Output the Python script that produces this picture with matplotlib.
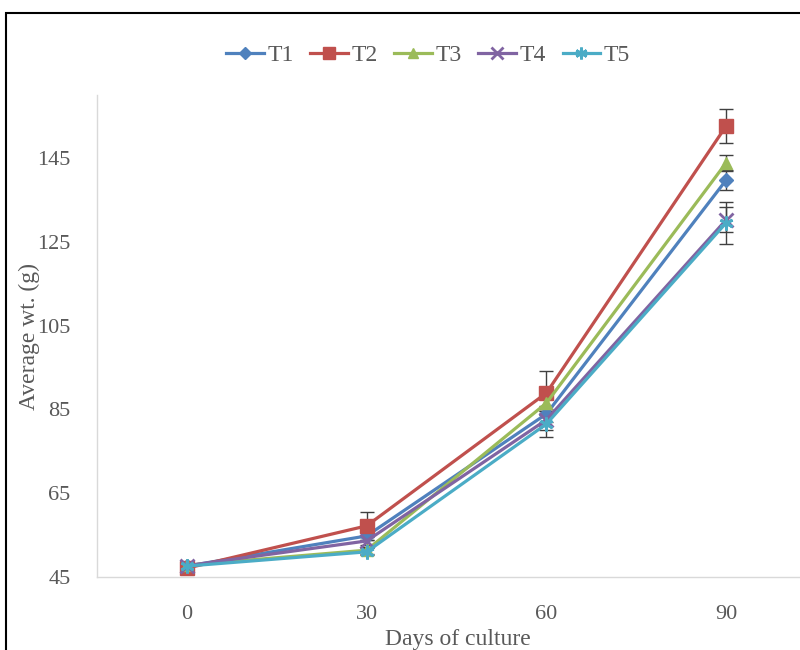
import matplotlib
matplotlib.use("Agg")
import matplotlib.pyplot as plt
from matplotlib.patches import Rectangle

days = [0, 30, 60, 90]
series = ["T1", "T2", "T3", "T4", "T5"]
T1 = [47.6, 54.8, 83.9, 139.7]
T2 = [47.1, 57.2, 88.9, 152.6]
T3 = [47.8, 51.4, 86.5, 143.8]
T4 = [47.7, 53.6, 82.5, 130.2]
T5 = [47.6, 51.0, 81.5, 129.5]
E1 = [0.3, 1.0, 2.0, 2.4]
E2 = [0.3, 3.4, 5.3, 4.0]
E3 = [0.3, 0.8, 2.0, 2.0]
E4 = [0.3, 1.0, 2.5, 3.0]
E5 = [0.3, 0.8, 3.0, 5.0]
yticks = [45, 65, 85, 105, 125, 145]

values = [T1, T2, T3, T4, T5]
errors = [E1, E2, E3, E4, E5]
colors = ["#4F81BD", "#C0504D", "#9BBB59", "#8064A2", "#4BACC6"]
markers = ["D", "s", "^", "x", (6, 2, 0)]
msizes = [7, 10, 9, 10, 10]

plt.rcParams['font.family'] = ['Liberation Serif', 'DejaVu Serif']
txt = "#595959"
fs = 17

fig = plt.figure(figsize=(8, 6.5), dpi=100)
ax = fig.add_axes([97/800, (650-577)/650, 719/800, (577-95)/650])

for name, v, e, c, m, ms in zip(series, values, errors, colors, markers, msizes):
    ax.errorbar(days, v, yerr=e, fmt='none', ecolor="#404040", elinewidth=1,
                capsize=5, capthick=1, zorder=2)
    ax.plot(days, v, color=c, lw=2.3, marker=m, markersize=ms,
            markerfacecolor=c, markeredgecolor=c,
            markeredgewidth=2 if m in ("x", (6, 2, 0)) else 1,
            label=name, zorder=3)

ax.set_xlim(-15, 105)
ax.set_ylim(45, 160)
ax.set_xticks(days)
ax.set_yticks(yticks)
ax.tick_params(length=0, labelsize=16, labelcolor=txt)
ax.tick_params(axis='y', pad=19)
ax.tick_params(axis='x', pad=20)
for s in ["top", "right"]:
    ax.spines[s].set_visible(False)
for s in ["left", "bottom"]:
    ax.spines[s].set_color("#D9D9D9")
    ax.spines[s].set_linewidth(1)

fig.text(458/800, 1 - 640/650, "Days of culture", ha='center', va='center',
         fontsize=fs, color=txt)
fig.text(29/800, 1 - 336/650, "Average wt. (g)", ha='center', va='center',
         rotation=90, fontsize=fs, color=txt)

leg = fig.legend(loc='center', bbox_to_anchor=(428/800, 1 - 55/650), ncol=5,
                 frameon=False, fontsize=fs, handlelength=1.6, handletextpad=0.15,
                 columnspacing=0.7, labelcolor=txt, markerscale=0.85)

fig.patches.append(Rectangle((6/800, -0.1), 1.0, 1 - 13/650 + 0.1,
                             transform=fig.transFigure, fill=False,
                             edgecolor='black', lw=1.5, zorder=10))

fig.savefig("out.png", dpi=100)
